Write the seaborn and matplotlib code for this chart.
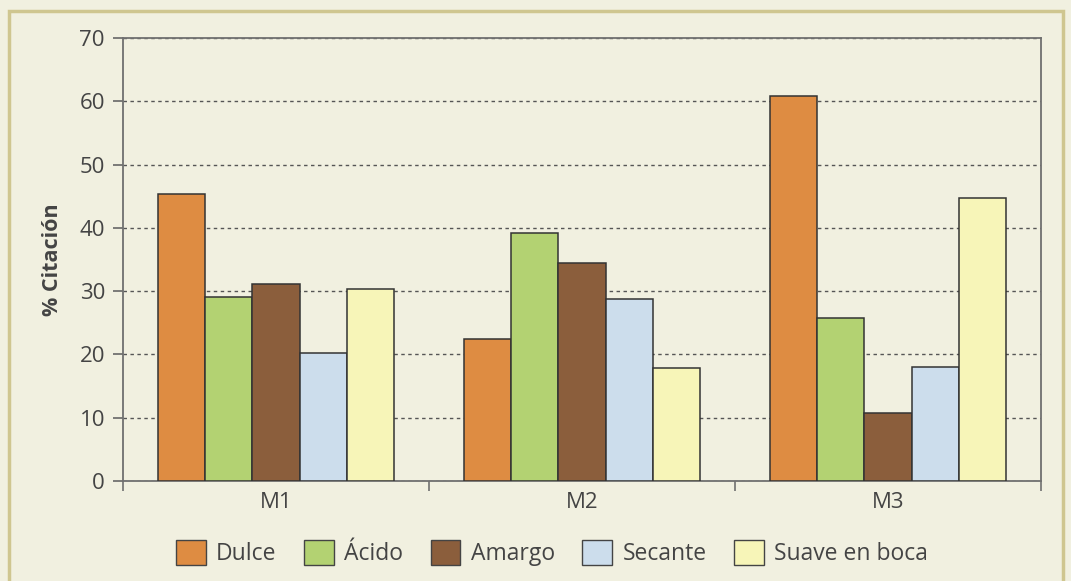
import matplotlib
matplotlib.use("Agg")
import matplotlib.pyplot as plt
import matplotlib.patches as mpatches
import pandas as pd
import seaborn as sns

# Datos
muestras = ["M1", "M2", "M3"]
atributos = ["Dulce", "Ácido", "Amargo", "Secante", "Suave en boca"]
dulce = [45.3, 22.5, 60.9]
acido = [29.1, 39.2, 25.8]
amargo = [31.1, 34.4, 10.7]
secante = [20.3, 28.7, 18.0]
suave = [30.4, 17.9, 44.7]

colores = ["#DE8C42", "#B3D272", "#8B5E3C", "#CCDDEC", "#F7F5B8"]
fondo = "#F1F0E0"

valores = [dulce, acido, amargo, secante, suave]
df = pd.DataFrame(
    [(m, a, v[i]) for a, v in zip(atributos, valores) for i, m in enumerate(muestras)],
    columns=["muestra", "atributo", "citacion"],
)

sns.set_theme(style="white")
plt.rcParams["font.family"] = ["Open Sans", "DejaVu Sans"]

fig = plt.figure(figsize=(10.71, 5.81), dpi=100, facecolor=fondo)
ax = fig.add_axes([123 / 1071, 100 / 581, 918 / 1071, 443 / 581])
ax.set_facecolor(fondo)

sns.barplot(
    data=df, x="muestra", y="citacion", hue="atributo",
    order=muestras, hue_order=atributos, palette=colores,
    width=0.77, edgecolor="#333333", linewidth=1.1, saturation=1,
    ax=ax, legend=False, zorder=3,
)

ax.set_ylim(0, 70)
ax.set_xlim(-0.5, 2.5)
ax.set_yticks(range(0, 71, 10))
ax.yaxis.grid(True, linestyle=(0, (2.5, 2.5)), color="#555555", linewidth=1.0, zorder=0)
ax.set_axisbelow(True)

for s in ax.spines.values():
    s.set_color("#707070")
    s.set_linewidth(1.3)

ax.tick_params(axis="y", which="major", direction="out", length=7, width=1.2,
               color="#666666", labelsize=16, labelcolor="#444444", pad=6, left=True)
ax.tick_params(axis="x", which="major", length=0, labelsize=16, labelcolor="#444444", pad=8)
ax.set_xticks([-0.5, 0.5, 1.5, 2.5], minor=True)
ax.tick_params(axis="x", which="minor", direction="out", length=7, width=1.2,
               color="#707070", bottom=True)

ax.set_xlabel("")
ax.set_ylabel("% Citación", fontsize=15.5, fontweight="bold", color="#444444", labelpad=12)

handles = [mpatches.Patch(facecolor=c, edgecolor="#444444", linewidth=1.0, label=a)
           for c, a in zip(colores, atributos)]
leg = fig.legend(
    handles=handles, loc="center", bbox_to_anchor=(552 / 1071, 1 - 553 / 581),
    ncol=5, frameon=False, fontsize=16.5, handlelength=1.3, handleheight=1.3,
    handletextpad=0.45, columnspacing=1.2, labelcolor="#444444",
)

# marco de la figura
fig.patches.append(mpatches.Rectangle(
    (9 / 1071, -0.05), 1054 / 1071, 1 - 11 / 581 + 0.05,
    transform=fig.transFigure, fill=False, edgecolor="#CFC690", linewidth=2.5,
))

fig.savefig("out.png", dpi=100, facecolor=fondo)
